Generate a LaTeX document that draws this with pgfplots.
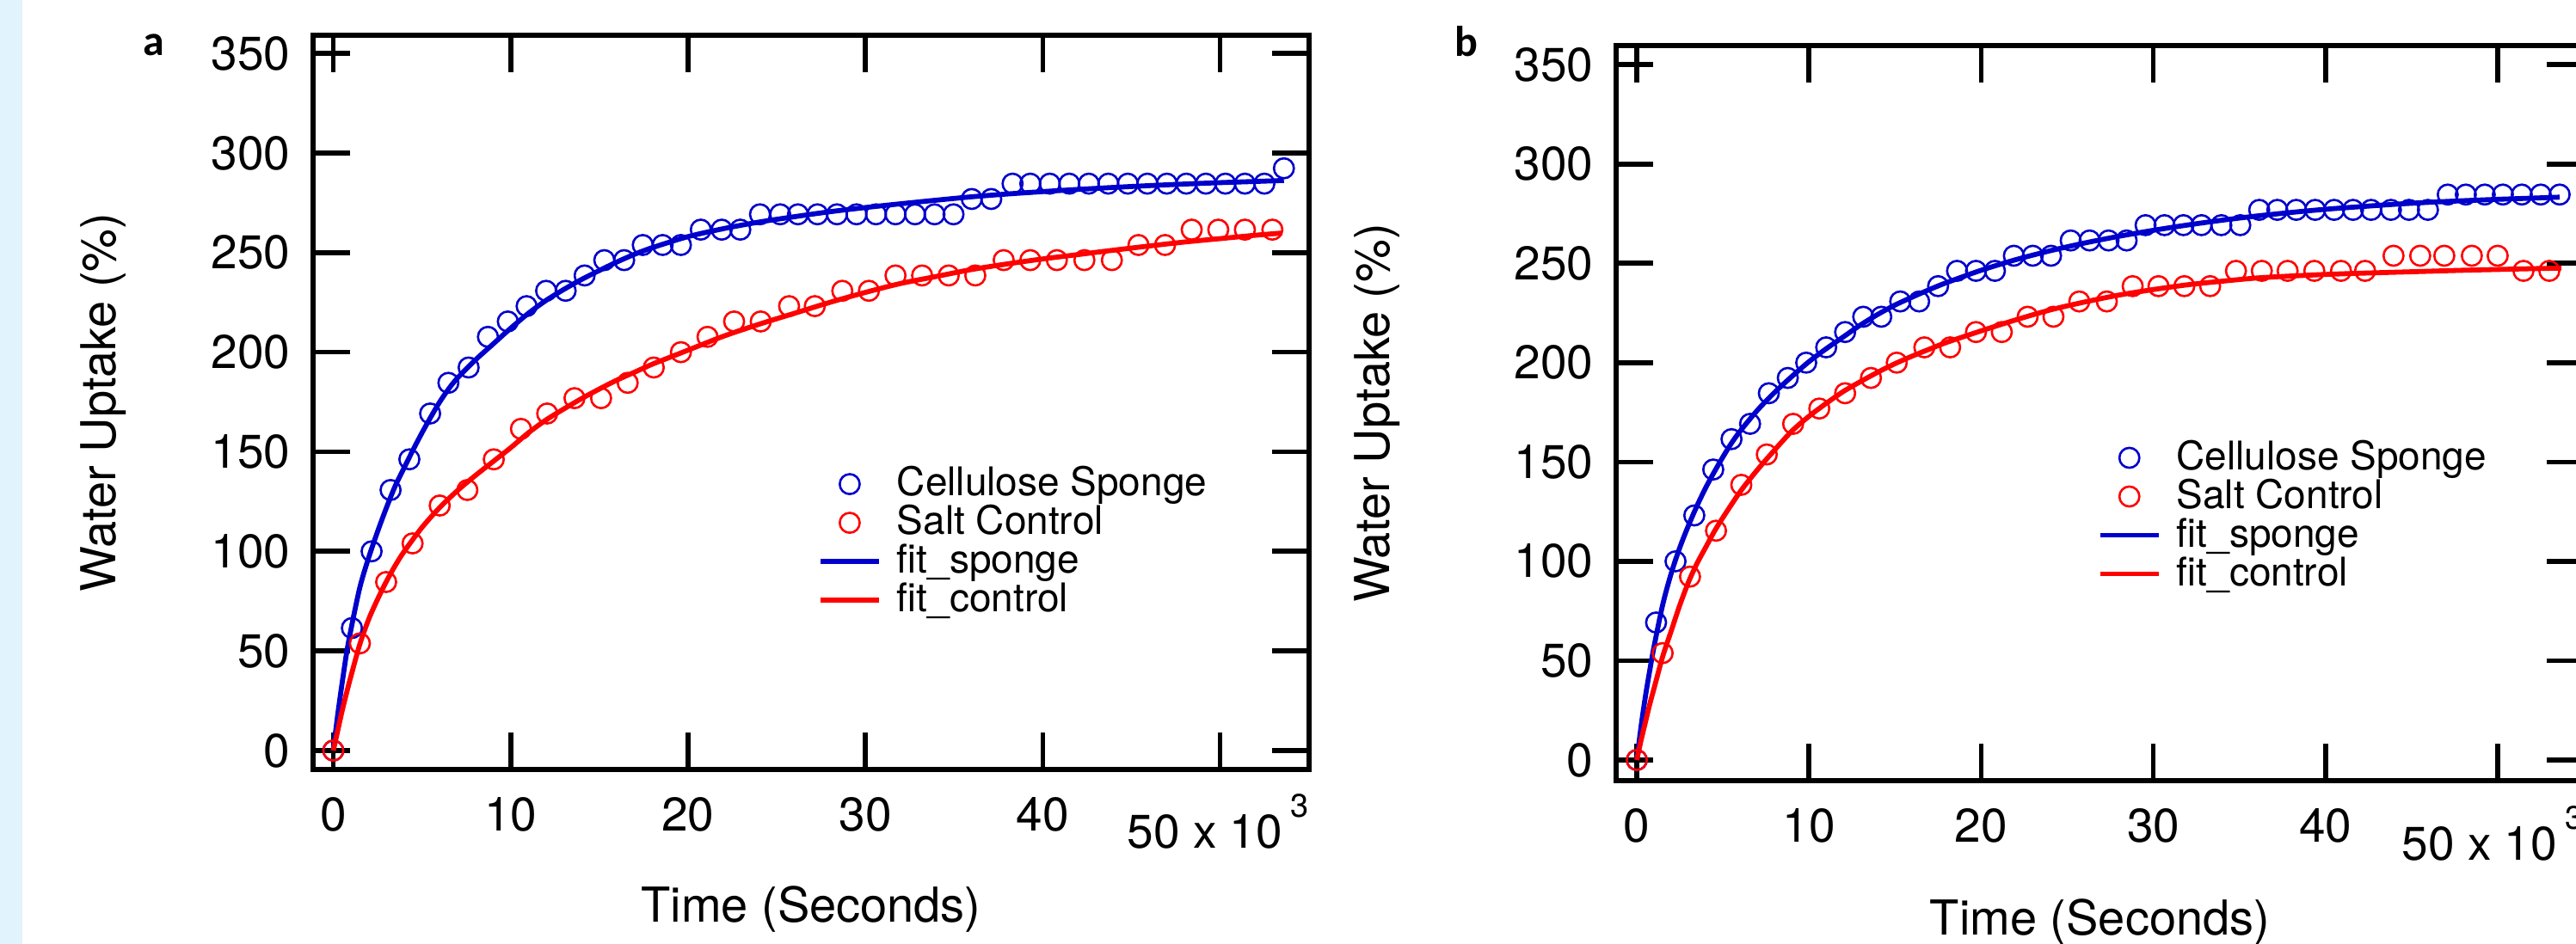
\documentclass[border=0pt]{standalone}
\usepackage{pgfplots}
\pgfplotsset{compat=1.18}
\usepackage{fontspec}
\setmainfont{TeX Gyre Heros}
\newfontfamily\panelfont{Carlito}
\definecolor{igblue}{RGB}{0,0,204}
\definecolor{igred}{RGB}{255,0,0}
\definecolor{band}{RGB}{225,243,252}

\pgfplotsset{
  igor/.style={
    scale only axis,
    clip=false,
    axis line style={line width=1.4bp},
    tick style={black, line width=1.4bp},
    major tick length=10.75bp,
    tick align=inside,
    xtick pos=both, ytick pos=both,
    xtick={0,10,20,30,40,50},
    xticklabels={0,10,20,30,40,{}},
    ytick={0,50,100,150,200,250,300,350},
    yticklabels={0,50,100,150,200,250,300,350},
    /pgf/number format/assume math mode=true,
    ticklabel style={font=\fontsize{13.75bp}{16bp}\selectfont, inner sep=0pt},
    xticklabel style={anchor=north, yshift=-8bp},
    yticklabel style={anchor=east, xshift=-6.5bp},
    legend cell align=left,
    legend style={draw=none, fill=none, inner sep=0pt, outer sep=0pt,
      row sep=0pt, column sep=4.5bp, anchor=north west,
      font=\fontsize{11.5bp}{13bp}\selectfont,
      nodes={inner sep=0pt, text height=9.1bp, text depth=2.15bp}},
  },
  dots/.style={only marks, mark=o, mark size=2.9bp,
    mark options={line width=0.65bp},
    legend image code/.code={\path (0cm,0cm) (0.6cm,0cm);
      \draw[mark repeat=2,mark phase=2,##1] plot coordinates {(0cm,0cm) (0.3cm,0cm) (0.6cm,0cm)};}},
  fitline/.style={no marks, line width=1.45bp, smooth},
}

\begin{document}
\begin{tikzpicture}
\fill[white] (0,0) rectangle (748.75bp,274.5bp);
\fill[band] (0,0) rectangle (6.5bp,274.5bp);

\node[anchor=base west, inner sep=0pt, font=\panelfont\bfseries\fontsize{12.5bp}{14bp}\selectfont] at (41.5bp,258.25bp) {a};
\node[anchor=base west, inner sep=0pt, font=\panelfont\bfseries\fontsize{12.5bp}{14bp}\selectfont] at (422.75bp,258bp) {b};

% ---------------- panel a ----------------
\begin{axis}[igor,
  at={(91bp,50.75bp)}, anchor=south west,
  width=289.5bp, height=213.5bp,
  xmin=-1.14, xmax=55.02, ymin=-9.5, ymax=359.1,
  xlabel={Time (Seconds)}, ylabel={Water Uptake (\%)},
  every axis x label/.style={at={(axis description cs:0.5,-0.2084)}, anchor=base, inner sep=0pt, font=\fontsize{14bp}{17bp}\selectfont},
  every axis y label/.style={at={(axis description cs:-0.1986,0.5)}, rotate=90, anchor=base, inner sep=0pt, font=\fontsize{14bp}{17bp}\selectfont},
  legend style={at={(axis description cs:0.5069,0.415)}},
]
\addplot[igblue, dots] coordinates {
(0,0) (1.05,61.5) (2.16,100) (3.23,130.8) (4.29,146.2) (5.46,169.2) (6.49,184.6) (7.63,192.3)
(8.72,207.7) (9.84,215.4) (10.9,223.1) (12.0,230.8) (13.1,230.8) (14.17,238.5) (15.28,246.2)
(16.4,246.2) (17.45,253.8) (18.57,253.8) (19.6,253.8) (20.72,261.5) (21.9,261.5) (22.95,261.5)
(24.06,269.2) (25.2,269.2) (26.2,269.2) (27.3,269.2) (28.4,269.2) (29.5,269.2) (30.6,269.2)
(31.7,269.2) (32.8,269.2) (33.9,269.2) (34.97,269.2) (36.0,276.9) (37.1,276.9) (38.3,284.6)
(39.3,284.6) (40.4,284.6) (41.5,284.6) (42.6,284.6) (43.7,284.6) (44.8,284.6) (45.9,284.6)
(47.0,284.6) (48.1,284.6) (49.2,284.6) (50.3,284.6) (51.4,284.6) (52.5,284.6) (53.6,292.3)
};
\addlegendentry{Cellulose Sponge}
\addplot[igred, dots] coordinates {
(0,0) (1.5,53.8) (2.98,84.6) (4.47,104) (6.0,123) (7.56,130.8) (9.05,146.2) (10.58,161.5)
(12.06,169.2) (13.6,176.9) (15.1,176.9) (16.6,184.6) (18.07,192.3) (19.6,200) (21.1,207.7)
(22.6,215.4) (24.1,215.4) (25.7,223.1) (27.15,223.1) (28.7,230.8) (30.2,230.8) (31.7,238.5)
(33.2,238.5) (34.7,238.5) (36.2,238.5) (37.8,246.2) (39.3,246.2) (40.8,246.2) (42.35,246.2)
(43.9,246.2) (45.4,253.8) (46.9,253.8) (48.4,261.5) (49.9,261.5) (51.4,261.5) (52.95,261.5)
};
\addlegendentry{Salt Control}
\addplot[igblue, fitline] coordinates {
(0,0) (0.25,18) (0.5,34) (0.75,49) (1,61) (1.5,82) (2,97) (2.5,110) (3,122) (3.5,133)
(4,142) (4.5,151) (5,159.5) (5.5,167.5) (6,175) (6.5,181.5) (7,187) (8,196) (9,204)
(10,212) (11,219.5) (12,226) (13,231.5) (14,236.5) (15,241) (16,245.3) (17,249.2)
(18,252.5) (20,258) (22,262) (24,265.3) (26,268) (28,270.5) (30,272.6) (32,274.5)
(34,276.3) (36,278) (38,279.4) (40,280.6) (42,281.7) (44,282.7) (46,283.6) (48,284.4)
(50,285.1) (52,285.7) (53.6,286.2)
};
\addlegendentry{fit\_sponge}
\addplot[igred, fitline] coordinates {
(0,0) (0.25,10) (0.5,20) (0.75,29) (1,37.5) (1.5,53.5) (2,66) (2.5,76) (3,85) (3.5,93)
(4,100) (5,112) (6,122) (7,130.5) (8,138) (9,145) (10,152) (11,159.5) (12,166) (13,171.5)
(14,176.7) (15,181.5) (16,186) (17,190) (18,194) (19,197.5) (20,201) (22,208) (24,214)
(26,219.5) (28,225) (30,230) (32,234.5) (34,238) (36,241.5) (38,244.3) (40,246.8)
(42,249) (44,251.2) (46,253.3) (48,255.3) (50,257) (52,258.7) (53.5,259.8)
};
\addlegendentry{fit\_control}
\node[anchor=base east, inner sep=0pt, font=\fontsize{13.75bp}{16bp}\selectfont] at (rel axis cs:1,-0.1077) {50 x 10\hspace{2.25bp}\raisebox{9bp}{\fontsize{9.5bp}{11bp}\selectfont 3}};
\end{axis}

% ---------------- panel b ----------------
\begin{axis}[igor,
  at={(469.75bp,47.5bp)}, anchor=south west,
  width=281.25bp, height=213.75bp,
  xmin=-1.2, xmax=55, ymin=-10.4, ymax=359.6,
  xlabel={Time (Seconds)}, ylabel={Water Uptake (\%)},
  every axis x label/.style={at={(axis description cs:0.5,-0.2094)}, anchor=base, inner sep=0pt, font=\fontsize{14bp}{17bp}\selectfont},
  every axis y label/.style={at={(axis description cs:-0.2338,0.5)}, rotate=90, anchor=base, inner sep=0pt, font=\fontsize{14bp}{17bp}\selectfont},
  legend style={at={(axis description cs:0.4976,0.4655)}},
]
\addplot[igblue, dots] coordinates {
(0,0) (1.12,69.2) (2.25,100) (3.34,123.1) (4.44,146.2) (5.5,161.5) (6.58,169.2) (7.67,184.6)
(8.77,192.3) (9.84,200) (11.0,207.7) (12.1,215.4) (13.15,223.1) (14.2,223.1) (15.3,230.8)
(16.4,230.8) (17.5,238.5) (18.6,246.2) (19.7,246.2) (20.8,246.2) (21.9,253.8) (23.0,253.8)
(24.06,253.8) (25.2,261.5) (26.3,261.5) (27.4,261.5) (28.45,261.5) (29.55,269.2) (30.65,269.2)
(31.75,269.2) (32.8,269.2) (33.95,269.2) (35.05,269.2) (36.15,276.9) (37.2,276.9) (38.3,276.9)
(39.4,276.9) (40.5,276.9) (41.6,276.9) (42.65,276.9) (43.8,276.9) (44.85,276.9) (45.95,276.9)
(47.1,284.6) (48.15,284.6) (49.25,284.6) (50.3,284.6) (51.4,284.6) (52.5,284.6) (53.6,284.6)
};
\addlegendentry{Cellulose Sponge}
\addplot[igred, dots] coordinates {
(0,0) (1.5,53.8) (3.09,92.3) (4.6,115.4) (6.07,138.5) (7.55,153.8) (9.08,169.2) (10.6,176.9)
(12.1,184.6) (13.6,192.3) (15.1,200) (16.7,207.7) (18.2,207.7) (19.7,215.4) (21.2,215.4)
(22.7,223.1) (24.2,223.1) (25.7,230.8) (27.3,230.8) (28.8,238.5) (30.3,238.5) (31.8,238.5)
(33.3,238.5) (34.8,246.2) (36.3,246.2) (37.8,246.2) (39.35,246.2) (40.9,246.2) (42.3,246.2)
(43.95,253.8) (45.5,253.8) (46.9,253.8) (48.5,253.8) (50.0,253.8) (51.5,246.2) (53.0,246.2)
};
\addlegendentry{Salt Control}
\addplot[igblue, fitline] coordinates {
(0,0) (0.25,17) (0.5,32) (0.75,45) (1,57) (1.5,78) (2,94) (2.5,107) (3,118) (3.5,128)
(4,137) (4.5,145) (5,152.5) (5.5,159.5) (6,165.5) (7,176) (8,185) (9,193) (10,200.5)
(11,207) (12,213) (13,219) (14,224.3) (15,229) (16,233) (17,236.8) (18,240.3) (20,246.5)
(22,251.8) (24,256.3) (26,260.2) (28,263.6) (30,266.6) (32,269.3) (34,271.7) (36,273.8)
(38,275.6) (40,277.2) (42,278.5) (44,279.7) (46,280.7) (48,281.5) (50,282.2) (52,282.8)
(53.6,283.3)
};
\addlegendentry{fit\_sponge}
\addplot[igred, fitline] coordinates {
(0,0) (0.25,10) (0.5,19) (0.75,28) (1,36) (1.5,52) (2,65) (2.5,78) (3,89.5) (3.5,99)
(4,107) (4.5,115) (5,122) (6,135) (7,146) (8,156) (9,165.5) (10,173) (11,179.5) (12,185.5)
(13,190.5) (14,195.2) (15,199.5) (16,203.3) (17,206.8) (18,210.2) (20,216) (22,221.5)
(24,226.5) (26,230.5) (28,234) (30,236.8) (32,239.2) (34,241) (36,242.6) (38,243.6)
(40,244.4) (42,245) (44,245.5) (46,246) (48,246.5) (50,246.9) (52,247.3) (53.7,247.6)
};
\addlegendentry{fit\_control}
\node[anchor=base east, inner sep=0pt, font=\fontsize{13.75bp}{16bp}\selectfont] at (rel axis cs:1,-0.1076) {50 x 10\hspace{2.25bp}\raisebox{9bp}{\fontsize{9.5bp}{11bp}\selectfont 3}};
\end{axis}

\pgfresetboundingbox
\useasboundingbox (0,0) rectangle (748.75bp,274.5bp);
\end{tikzpicture}
\end{document}
